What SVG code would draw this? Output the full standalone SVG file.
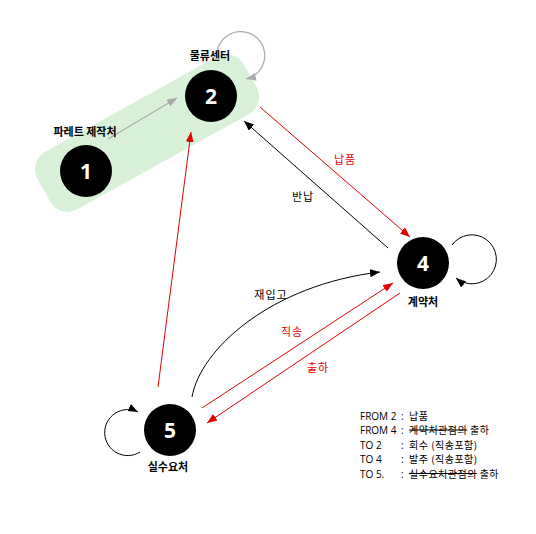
<svg xmlns="http://www.w3.org/2000/svg" width="536" height="534" viewBox="0 0 536 534">
<style>
.node circle{fill:#000}
.num{font-family:"Open Sans","Liberation Sans",sans-serif;font-size:21px;font-weight:bold;fill:#fff;text-anchor:middle}
.lbl{font-family:"Noto Sans CJK KR",sans-serif;font-size:11px;font-weight:bold;fill:#000;text-anchor:middle}
.elbl{font-family:"Noto Sans CJK KR",sans-serif;font-size:11px;text-anchor:middle;letter-spacing:1px}
.leg{font-family:"Open Sans","Liberation Sans","Noto Sans CJK KR",sans-serif;font-size:10px;fill:#000}
.ko{font-family:"Noto Sans CJK KR",sans-serif;font-size:10px;letter-spacing:0.5px}
.red{stroke:#e00000;fill:none;stroke-width:1}
.blk{stroke:#000;fill:none;stroke-width:1}
.gry{stroke:#aaaaaa;fill:none;stroke-width:1.2}
</style>
<defs>
<marker id="ar" markerUnits="userSpaceOnUse" markerWidth="12" markerHeight="10" refX="10" refY="4" orient="auto"><path d="M0,0 L10,4 L0,8 z" fill="#e00000"/></marker>
<marker id="ab" markerUnits="userSpaceOnUse" markerWidth="12" markerHeight="10" refX="10" refY="4" orient="auto"><path d="M0,0 L10,4 L0,8 z" fill="#000"/></marker>
<marker id="ag" markerUnits="userSpaceOnUse" markerWidth="12" markerHeight="10" refX="10" refY="4" orient="auto"><path d="M0,0 L10,4 L0,8 z" fill="#aaaaaa"/></marker>
</defs>
<rect width="536" height="534" fill="#fff"/>
<g id="group-bg">
<rect x="29" y="100" width="236" height="66" rx="20" fill="#d9f1d8" transform="rotate(-29 147 133)"/>
</g>
<g id="connectors">
<line class="gry" x1="108" y1="139" x2="177" y2="98" marker-end="url(#ag)"/>
<path class="gry" d="M217 52 A24 24 0 1 1 246 79" marker-end="url(#ag)"/>
<line class="red" x1="260" y1="107" x2="410" y2="237" marker-end="url(#ar)"/>
<line class="blk" x1="388" y1="248" x2="244" y2="121" marker-end="url(#ab)"/>
<line class="red" x1="158" y1="387" x2="191" y2="132" marker-end="url(#ar)"/>
<path class="blk" d="M192 397 C200 350 270 285 380 272" marker-end="url(#ab)"/>
<line class="red" x1="202" y1="408" x2="393" y2="283" marker-end="url(#ar)"/>
<line class="red" x1="400" y1="293" x2="207" y2="423" marker-end="url(#ar)"/>
<path class="blk" d="M452 245 A24.5 24.5 0 1 1 456 278" marker-end="url(#ab)"/>
<path class="blk" d="M140 452 A23 23 0 1 1 138 412" marker-end="url(#ab)"/>
</g>
<g id="edge-labels">
<text class="elbl" x="345" y="164" fill="#e00000">납품</text>
<text class="elbl" x="303" y="201" fill="#000">반납</text>
<text class="elbl" x="271" y="299" fill="#000">재입고</text>
<text class="elbl" x="292" y="336" fill="#e00000">직송</text>
<text class="elbl" x="318" y="372" fill="#e00000">출하</text>
</g>
<g id="node-1" class="node"><circle cx="86" cy="171" r="26"/><text class="num" x="86" y="178.5">1</text><text class="lbl" x="85" y="136">파레트 제작처</text></g>
<g id="node-2" class="node"><circle cx="211" cy="96" r="26"/><text class="num" x="211" y="103.5">2</text><text class="lbl" x="210" y="60">물류센터</text></g>
<g id="node-4" class="node"><circle cx="423" cy="263" r="26"/><text class="num" x="423" y="270.5">4</text><text class="lbl" x="423" y="306">계약처</text></g>
<g id="node-5" class="node"><circle cx="170" cy="430" r="26"/><text class="num" x="170" y="437.5">5</text><text class="lbl" x="168" y="471">실수요처</text></g>
<g id="legend">
<text class="leg" x="360" y="419.5">FROM 2<tspan x="401">:</tspan><tspan class="ko" x="409">납품</tspan></text>
<text class="leg" x="360" y="434">FROM 4<tspan x="401">:</tspan><tspan class="ko" x="409" text-decoration="line-through">계약처관점의</tspan><tspan class="ko"> 출하</tspan></text>
<text class="leg" x="360" y="448.5">TO 2<tspan x="401">:</tspan><tspan class="ko" x="409">회수 (직송포함)</tspan></text>
<text class="leg" x="360" y="463">TO 4<tspan x="401">:</tspan><tspan class="ko" x="409">발주 (직송포함)</tspan></text>
<text class="leg" x="360" y="477.5">TO 5.<tspan x="401">:</tspan><tspan class="ko" x="409" text-decoration="line-through">실수요처관점의</tspan><tspan class="ko"> 출하</tspan></text>
</g>
</svg>
